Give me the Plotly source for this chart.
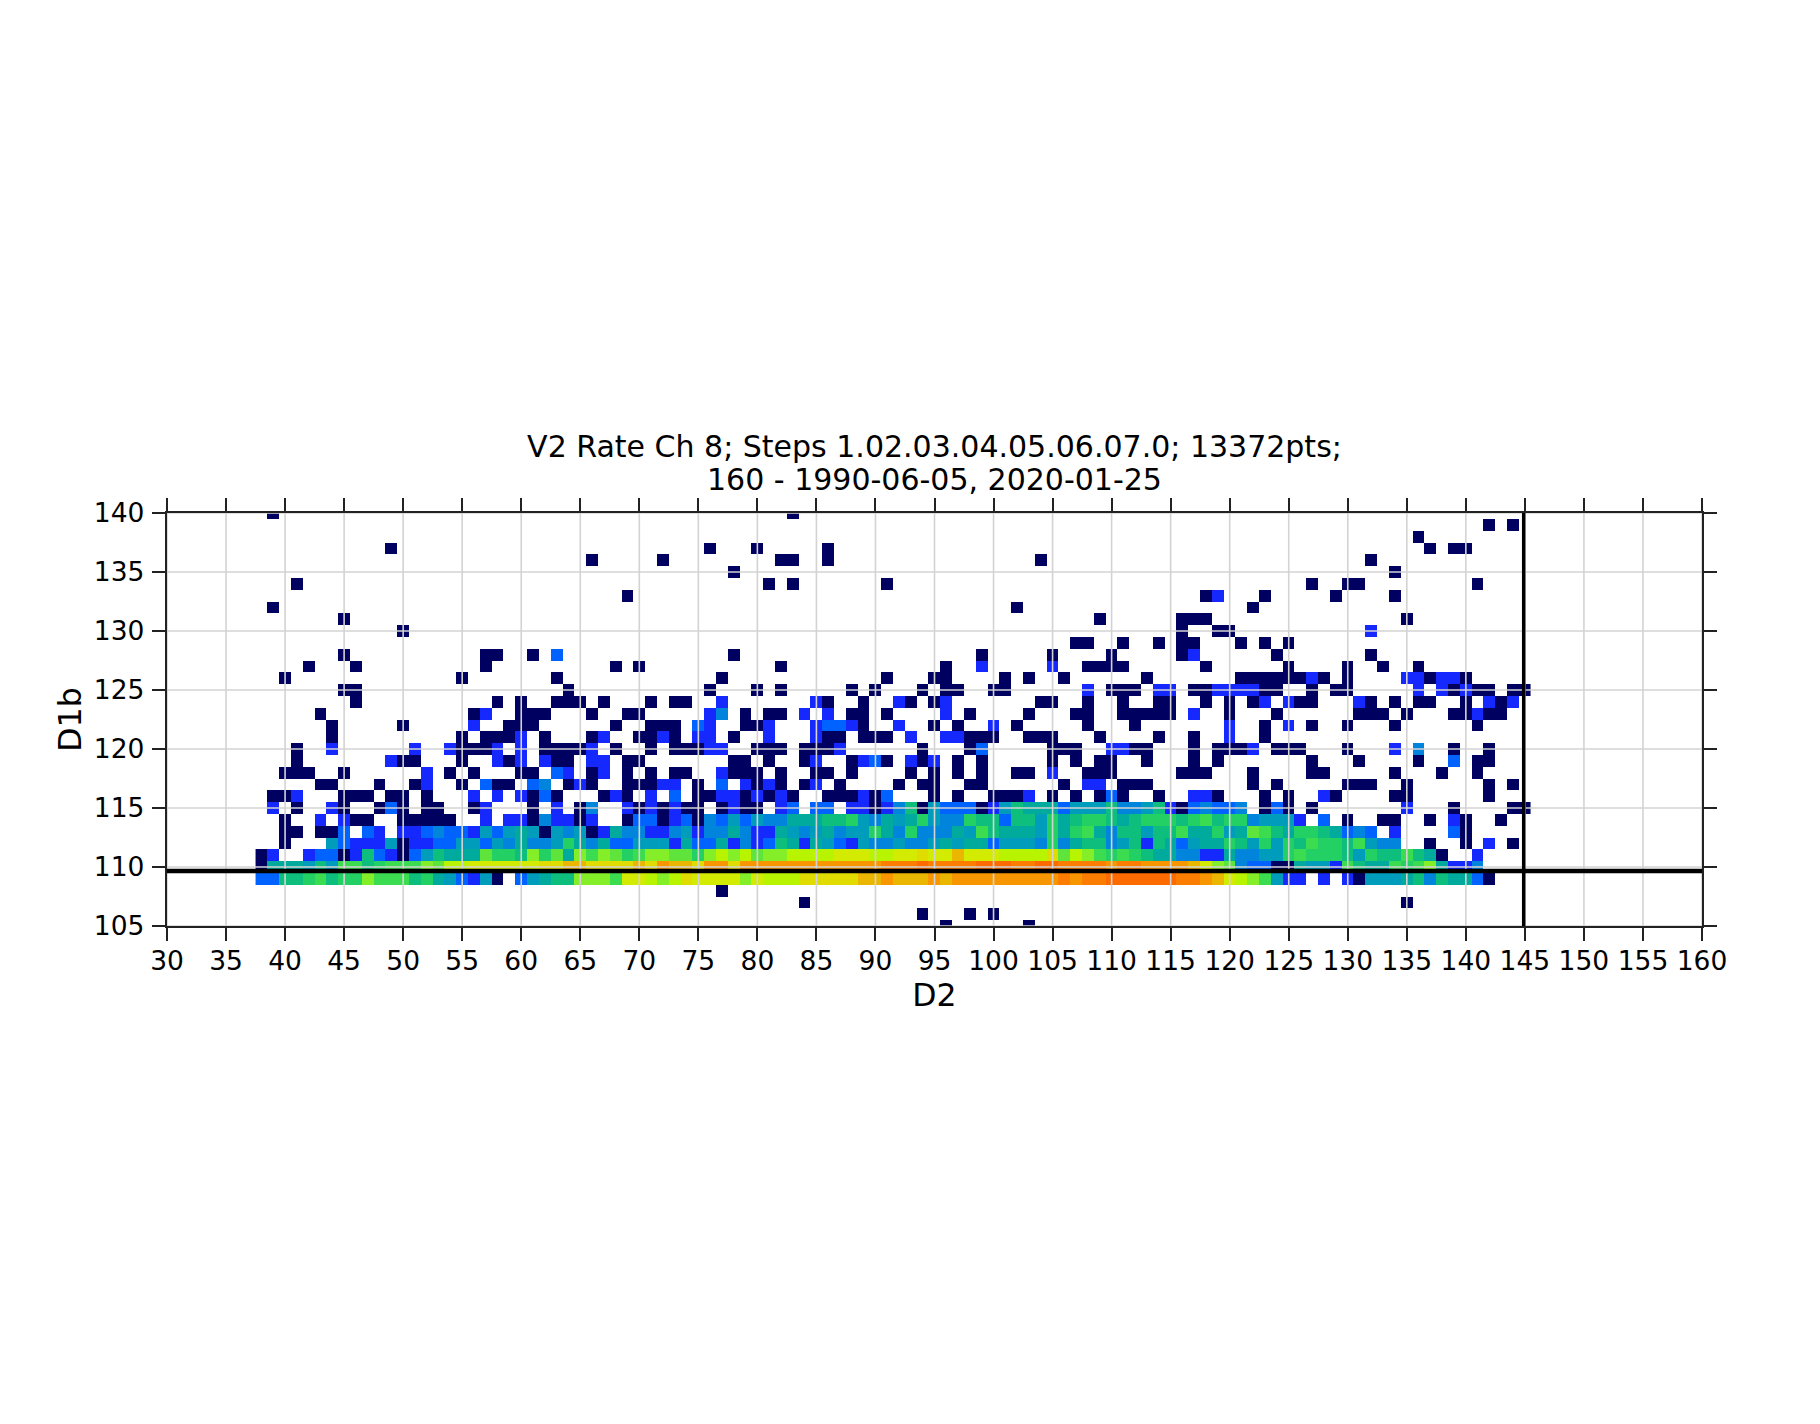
import plotly.graph_objects as go

TITLE_LINE_1 = "V2 Rate Ch 8; Steps 1.02.03.04.05.06.07.0; 13372pts;"
TITLE_LINE_2 = "160 - 1990-06-05, 2020-01-25"
X_LABEL = "D2"
Y_LABEL = "D1b"
x_ticks = list(range(30, 161, 5))
y_ticks = list(range(105, 141, 5))
d2_bins = list(range(38, 146))
d1b_bins = list(range(105, 141))
h_limit = 109.66
v_limit = 144.9

# colour levels, low to high rate (log-like count levels of the 2D histogram)
level_colors = ["#000060", "#1529ff", "#0062ff", "#0084dc", "#009cbc", "#00aa9c", "#0ebe7c", "#23d064",
                "#3cdc50", "#5fe43c", "#84ee28", "#b8f400", "#d2eb00", "#e1dc00", "#ebb600", "#f89600",
                "#fc7d00", "#fc6a00"]

# sparse rows: D1b -> (level 0 bins, level 1 bins, level 2 bins, level 3 bins)
row_140 = ([39, 83],)
row_139 = ([142, 144],)
row_138 = ([136],)
row_137 = ([49, 76, 80, 86, 137, 139, 140],)
row_136 = ([66, 72, 82, 83, 86, 104, 132],)
row_135 = ([78, 134],)
row_134 = ([41, 81, 83, 91, 127, 130, 131, 141],)
row_133 = ([69, 118, 123, 129, 134], [119])
row_132 = ([39, 102, 122],)
row_131 = ([45, 109, 116, 117, 118, 135],)
row_130 = ([50, 116, 119, 120], [132])
row_129 = ([107, 108, 111, 114, 116, 117, 121, 123, 125],)
row_128 = ([45, 57, 58, 61, 78, 99, 105, 110, 116, 124, 132], [117], [63])
row_127 = ([42, 46, 57, 68, 70, 82, 96, 108, 109, 110, 111, 118, 125, 130, 133, 136], [99, 105])
row_126 = ([40, 55, 63, 77, 91, 95, 96, 101, 103, 106, 113, 121, 122, 123, 124, 125, 126, 128, 130, 137, 140],
           [127, 135, 136, 138, 139])
row_125 = ([45, 46, 64, 76, 80, 82, 88, 90, 94, 96, 97, 100, 101, 110, 111, 112, 117, 118, 123, 124, 127, 129, 130,
            139, 141, 142, 144, 145], [108, 114, 115, 119, 120, 121, 122, 136, 138, 140])
row_124 = ([46, 58, 60, 63, 64, 65, 67, 71, 73, 74, 86, 89, 93, 95, 104, 105, 108, 111, 114, 115, 118, 120, 122, 126,
            127, 132, 134, 136, 137, 140, 143], [77, 85, 92, 96, 123, 125, 131, 142, 144])
row_123 = ([43, 56, 60, 61, 62, 66, 69, 70, 79, 81, 82, 88, 89, 91, 98, 103, 107, 108, 111, 112, 113, 114, 115, 120,
            124, 131, 132, 133, 135, 139, 140, 142, 143], [57, 76, 84, 86, 96, 117, 141], [], [77])
row_122 = ([44, 50, 59, 60, 61, 68, 71, 72, 73, 79, 80, 89, 95, 97, 102, 108, 112, 123, 127, 130, 134, 141],
           [56, 76, 81, 85, 88, 92, 100, 120, 125], [75, 86, 87])
row_121 = ([44, 55, 57, 58, 59, 62, 66, 70, 71, 73, 78, 86, 87, 89, 90, 91, 98, 99, 100, 103, 104, 105, 109, 114, 117,
            123], [60, 67, 72, 75, 76, 81, 85, 93, 96, 97, 120])
row_120 = ([41, 55, 56, 57, 62, 63, 64, 65, 68, 71, 73, 74, 75, 80, 81, 82, 84, 85, 86, 94, 98, 105, 106, 107, 112, 113,
            117, 119, 120, 121, 124, 125, 126, 130, 139, 142],
           [44, 51, 54, 58, 60, 66, 76, 77, 87, 110, 111, 122, 134], [99], [136])
row_119 = ([41, 50, 51, 55, 59, 63, 64, 69, 70, 78, 79, 81, 84, 88, 91, 94, 97, 99, 105, 107, 109, 110, 113, 117, 119,
            127, 131, 136, 141, 142], [49, 58, 60, 62, 66, 67, 85, 89, 93, 95], [90, 139])
row_118 = ([40, 41, 42, 45, 54, 56, 60, 61, 66, 69, 71, 73, 74, 78, 79, 80, 82, 85, 86, 88, 93, 95, 97, 99, 102, 103,
            108, 109, 110, 116, 117, 118, 122, 127, 128, 134, 138, 141], [52, 64, 67, 77, 105], [63])
row_117 = ([43, 44, 48, 51, 55, 58, 59, 64, 66, 69, 70, 71, 75, 80, 82, 84, 87, 92, 94, 95, 98, 99, 106, 111, 112, 113,
            122, 124, 130, 131, 132, 135, 142, 144], [52, 65, 72, 73, 79, 81, 85, 108, 109], [57, 61, 77], [62])
row_116 = ([39, 40, 45, 46, 47, 49, 50, 52, 61, 63, 67, 69, 75, 76, 79, 81, 83, 86, 87, 88, 90, 95, 97, 100, 101, 102,
            105, 107, 109, 111, 114, 119, 123, 125, 129, 134, 135, 142],
           [41, 56, 58, 60, 68, 71, 77, 78, 80, 82, 89, 103, 117, 118, 128], [62, 73, 91, 110])
row_108 = ([77],)
row_107 = ([84, 135],)
row_106 = ([94, 98, 100],)
row_105 = ([96, 103],)

sparse_rows = {140: row_140, 139: row_139, 138: row_138, 137: row_137, 136: row_136, 135: row_135, 134: row_134,
               133: row_133, 132: row_132, 131: row_131, 130: row_130, 129: row_129, 128: row_128, 127: row_127,
               126: row_126, 125: row_125, 124: row_124, 123: row_123, 122: row_122, 121: row_121, 120: row_120,
               119: row_119, 118: row_118, 117: row_117, 116: row_116, 108: row_108, 107: row_107, 106: row_106,
               105: row_105}

# dense rows: base-18 level per bin, '.' = empty; decades start at D2 = 40, 50, ...
dense_115 = [".1", ".0..10..02", "0.00..01..", ".0.1.03..1", "010100.010", "0.12.22.11", "0136042220", "1465552444",
             "6334610232", "23.020.0..", ".....1...0", "....00"]
dense_114 = ["..", "0..1.100..", "00000..1.1", "1031101..0", "2201203242", "4335556674", "3545743376", "6266475677",
             "6567776786", "7734441.2.", "0..00..0.1", "0..0.."]
dense_113 = ["..", "00.002.21.", "1123221424", "5404340153", "3113413353", "1154345344", "7537333548", "6555475785",
             "3664668557", "4598657765", "232.1....2", "0....."]
dense_112 = ["..", "0...421114", "0112244243", "5334753522", "4441522513", "1265154214", "3343345455", "2444373566",
             "3461652455", "7647476877", "68433..0..", "0.1.0."]
dense_111 = ["01", "..12201621", "0246555977", "6a795a8a97", "8aa997abab", "9aabbbbccc", "bbccdccecc", "cbbbbd9ba8",
             "7876553311", "5334478777", "647668650.", ".1...."]
dense_110 = ["05", "5546488678", "88a9bbcccc", "ccddeedddd", "edfeedffdf", "ffffffffff", "fggghggggh", "hhgghhgggg",
             "fggffffeca", "9322005441", "8655878a51", "13...."]
dense_109 = ["22", "6678677a88", "867542140.", "24566aaa8c", "cbabdcccca", "cbbbddddde", "efeeefefff", "ffffffgfgg",
             "hhhhhhggfe", "cba8411.1.", "1044456365", "520..."]
dense_rows = {115: dense_115, 114: dense_114, 113: dense_113, 112: dense_112, 111: dense_111, 110: dense_110,
              109: dense_109}

z = {y: {x: None for x in d2_bins} for y in d1b_bins}
for y, groups in sparse_rows.items():
    for level, bins in enumerate(groups):
        for x in bins:
            z[y][x] = level
for y, chunks in dense_rows.items():
    for x, ch in zip(d2_bins, "".join(chunks)):
        z[y][x] = None if ch == "." else int(ch, 18)
z_matrix = [[z[y][x] for x in d2_bins] for y in d1b_bins]

n = len(level_colors) - 1
colorscale = [[i / n, c] for i, c in enumerate(level_colors)]

FONT = "DejaVu Sans"
AXIS = "#222222"
fig = go.Figure(go.Heatmap(x=d2_bins, y=d1b_bins, z=z_matrix, zmin=0, zmax=n, colorscale=colorscale,
                           showscale=False, hoverongaps=False))

shapes = []
for t in x_ticks:
    shapes.append(dict(type="line", xref="x", yref="paper", x0=t, x1=t, y0=0, y1=1, layer="above",
                       line=dict(color="#d3d3d3", width=1.6)))
for t in y_ticks:
    shapes.append(dict(type="line", xref="paper", yref="y", x0=0, x1=1, y0=t, y1=t, layer="above",
                       line=dict(color="#d3d3d3", width=1.6)))
shapes.append(dict(type="line", xref="paper", yref="y", x0=0, x1=1, y0=h_limit, y1=h_limit, layer="above",
                   line=dict(color="black", width=4.3)))
shapes.append(dict(type="line", xref="x", yref="paper", x0=v_limit, x1=v_limit, y0=0, y1=1, layer="above",
                   line=dict(color="black", width=3.5)))

axis_common = dict(showgrid=False, zeroline=False, showline=True, linecolor=AXIS, linewidth=1.6, mirror="ticks",
                   ticks="outside", ticklen=13.5, tickwidth=1.6, tickcolor=AXIS,
                   tickfont=dict(family=FONT, size=26.5, color="#000"), layer="above traces")
fig.update_layout(
    width=1820, height=1424, autosize=False, paper_bgcolor="white", plot_bgcolor="white",
    margin=dict(l=167.3, r=118.3, t=513, b=498, pad=0),
    font=dict(family=FONT, size=26.5, color="#000"),
    title=dict(text=TITLE_LINE_1, x=934.5 / 1820, xanchor="center", y=1 - 446 / 1424, yanchor="middle",
               font=dict(family=FONT, size=30, color="#000")),
    annotations=[dict(text=TITLE_LINE_2, xref="paper", yref="paper", x=0.5, y=(513 - 479) / 413 + 1, yanchor="middle",
                      xanchor="center", showarrow=False, font=dict(family=FONT, size=30, color="#000"))],
    shapes=shapes,
    xaxis=dict(range=[30, 160], tickvals=x_ticks, ticklabelstandoff=-3,
               title=dict(text=X_LABEL, standoff=9, font=dict(family=FONT, size=31.5, color="#000")), **axis_common),
    yaxis=dict(range=[105, 140], tickvals=y_ticks, ticklabelstandoff=2,
               title=dict(text=Y_LABEL, standoff=3, font=dict(family=FONT, size=31.5, color="#000")), **axis_common),
)
fig.write_html("out.html", config={"displayModeBar": False}, post_script="document.body.style.margin='0';")
